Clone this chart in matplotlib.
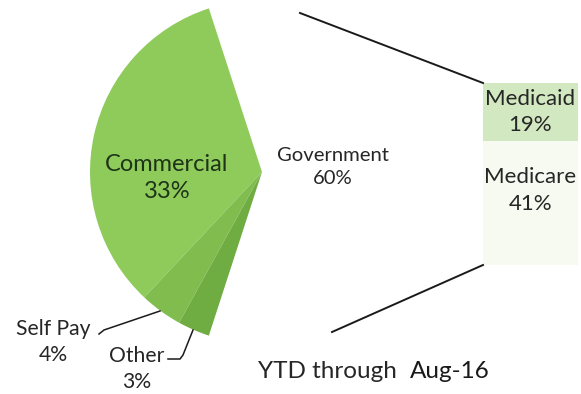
import matplotlib
matplotlib.use("Agg")
from matplotlib import pyplot as plt

plt.rcParams['font.family'] = ['Lato', 'DejaVu Sans']

# payer mix, percent of total
pie_labels = ['Commercial', 'Self Pay', 'Other', 'Government']
pie_values = [33, 4, 3, 60]
pie_colors = ['#8fcb5b', '#80bd4e', '#6fac42', 'none']

# government split shown in the bar
bar_labels = ['Medicare', 'Medicaid']
bar_values = [41, 19]
bar_colors = ['#f6faf0', '#d2e8c0']
bar_label_shift = [9, 0]   # points, nudges the label inside its segment

period_text = 'YTD through'
period_value = 'Aug-16'

W, H = 581, 394
fig = plt.figure(figsize=(W / 100, H / 100), dpi=100)

# pie: centre (262,172) px, radius 172 px
cx, cy, rad = 262, 172, 172
ax_pie = fig.add_axes([(cx - rad) / W, (H - cy - rad) / H, 2 * rad / W, 2 * rad / H])
ax_pie.pie(pie_values, colors=pie_colors, startangle=108, counterclock=True,
           radius=1, wedgeprops=dict(linewidth=0))
ax_pie.set_xlim(-1, 1)
ax_pie.set_ylim(-1, 1)
ax_pie.set_aspect('auto')
ax_pie.axis('off')

# stacked bar for the government share
bx0, bx1, by0, by1 = 483, 578, 83, 265
ax_bar = fig.add_axes([bx0 / W, (H - by1) / H, (bx1 - bx0) / W, (by1 - by0) / H])
bottom = 0
for lab, val, col, dy in zip(bar_labels, bar_values, bar_colors, bar_label_shift):
    ax_bar.bar(0, val, bottom=bottom, width=1, color=col, linewidth=0)
    ax_bar.annotate(f'{lab}\n{val}%', (0, bottom + val / 2), xytext=(0, dy),
                    textcoords='offset points', ha='center', va='center',
                    fontsize=16, color='#262626', linespacing=1.4)
    bottom += val
ax_bar.set_xlim(-0.5, 0.5)
ax_bar.set_ylim(0, sum(bar_values))
ax_bar.axis('off')

# overlay in pixel coordinates for labels and connector lines
ov = fig.add_axes([0, 0, 1, 1])
ov.set_xlim(0, W)
ov.set_ylim(H, 0)
ov.axis('off')

ov.text(167, 178, f'{pie_labels[0]}\n{pie_values[0]}%', ha='center', va='center',
        fontsize=17, color='#1e3318', linespacing=1.4)
ov.text(333, 167, f'{pie_labels[3]}\n{pie_values[3]}%', ha='center', va='center',
        fontsize=14.6, color='#262626', linespacing=1.38)
ov.text(53, 342, f'{pie_labels[1]}\n{pie_values[1]}%', ha='center', va='center',
        fontsize=15.2, color='#262626', linespacing=1.38)
ov.text(137, 369, f'{pie_labels[2]}\n{pie_values[2]}%', ha='center', va='center',
        fontsize=15.2, color='#262626', linespacing=1.38)

# leader lines for the small slices
ov.plot([99, 104, 160], [334, 330, 311], color='#1a1a1a', lw=1.1)
ov.plot([168, 180, 183, 193], [359, 359, 355, 330], color='#1a1a1a', lw=1.1)

# connectors from pie to bar
ov.plot([300, bx0], [13, by0], color='#1a1a1a', lw=1.4)
ov.plot([332, bx0], [332, by1], color='#1a1a1a', lw=1.4)

ov.text(258, 371, period_text, ha='left', va='center', fontsize=17.5, color='#262626')
ov.text(410, 371, period_value, ha='left', va='center', fontsize=17.5, color='#1a1a1a')

fig.savefig('out.png', dpi=100)
